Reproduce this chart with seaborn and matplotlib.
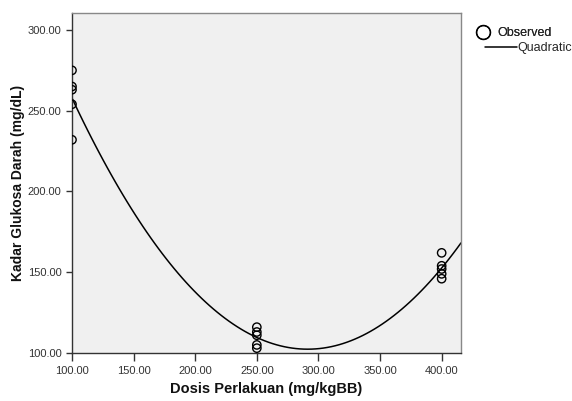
import numpy as np
import pandas as pd
import matplotlib
matplotlib.use("Agg")
import matplotlib.pyplot as plt
import seaborn as sns
from matplotlib.lines import Line2D
from matplotlib.path import Path
from matplotlib.ticker import FormatStrFormatter

# Data
dose = [100] * 5 + [250] * 5 + [400] * 5
glucose_100 = [275, 265, 263, 254, 232]
glucose_250 = [116, 113, 111, 105, 103]
glucose_400 = [162, 154, 152, 149, 146]
glucose = glucose_100 + glucose_250 + glucose_400
x_ticks = [100, 150, 200, 250, 300, 350, 400]
y_ticks = [100, 150, 200, 250, 300]

df = pd.DataFrame({"dose": dose, "glucose": glucose})

sns.set_theme(style="white")
plt.rcParams["font.family"] = ["Liberation Sans", "DejaVu Sans"]

fig = plt.figure(figsize=(5.72, 4.01), dpi=100)
ax = fig.add_axes([72 / 572, 1 - 353 / 401, (461 - 72) / 572, (353 - 13) / 401])
ax.set_facecolor("#f0f0f0")
ax.set_xlim(100, 415.7)
ax.set_ylim(100, 310.5)

sns.regplot(data=df, x="dose", y="glucose", order=2, ci=None, truncate=False,
            scatter=False, ax=ax, line_kws=dict(color="black", lw=1.1))
sns.scatterplot(data=df, x="dose", y="glucose", ax=ax, marker="o",
                facecolor="none", edgecolor="black", linewidth=1.0, s=36,
                zorder=3, legend=False)
clip_rect = Path.unit_rectangle()
for coll in ax.collections:
    coll.set_clip_on(True)
    coll.set_clip_path(clip_rect, ax.transAxes)
ax.set_xlim(100, 415.7)
ax.set_ylim(100, 310.5)

ax.set_xticks(x_ticks)
ax.set_yticks(y_ticks)
ax.xaxis.set_major_formatter(FormatStrFormatter("%.2f"))
ax.yaxis.set_major_formatter(FormatStrFormatter("%.2f"))
ax.tick_params(axis="both", which="major", direction="out", width=1,
               color="#333333", labelsize=8, labelcolor="#333333",
               bottom=True, left=True, top=False, right=False)
ax.tick_params(axis="x", length=6, pad=3)
ax.tick_params(axis="y", length=4.5, pad=3)
for side in ["top", "right"]:
    ax.spines[side].set_color("#888888")
    ax.spines[side].set_linewidth(1.0)
for side in ["left", "bottom"]:
    ax.spines[side].set_color("#333333")
    ax.spines[side].set_linewidth(1.0)

ax.set_xlabel("Dosis Perlakuan (mg/kgBB)", fontsize=10.5, fontweight="bold",
              color="#111111", labelpad=5)
ax.set_ylabel("Kadar Glukosa Darah (mg/dL)", fontsize=10, fontweight="bold",
              color="#111111", labelpad=2)

obs = Line2D([], [], marker="o", linestyle="none", markerfacecolor="none",
             markeredgecolor="black", markersize=10, markeredgewidth=1.0)
quad = Line2D([], [], color="black", lw=1.1)
leg1 = fig.legend([obs], ["Observed"], loc="center left",
                  bbox_to_anchor=(477 / 572, 1 - 33 / 401), frameon=False,
                  fontsize=9, handlelength=1.0, handletextpad=0.6,
                  borderpad=0, borderaxespad=0)
leg2 = fig.legend([quad], ["Quadratic"], loc="center left",
                  bbox_to_anchor=(485 / 572, 1 - 48 / 401), frameon=False,
                  fontsize=9, handlelength=2.55, handletextpad=0.0,
                  borderpad=0, borderaxespad=0)
fig.add_artist(leg1)

fig.savefig("out.png", dpi=100)
